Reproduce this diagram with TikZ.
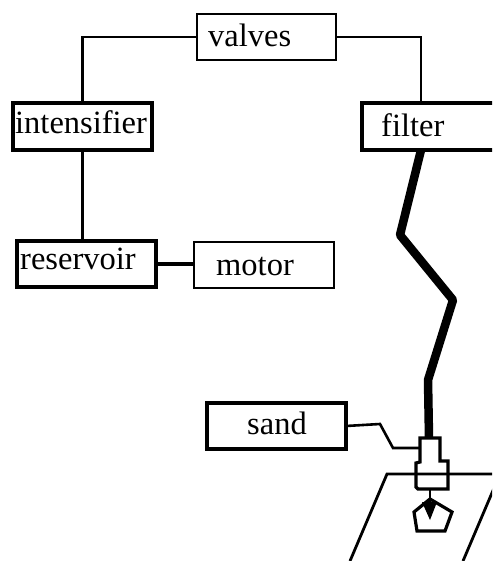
\documentclass[tikz,border=0pt]{standalone}
\usepackage{fontspec}
\setmainfont{Liberation Serif}
\begin{document}
\begin{tikzpicture}[x=1pt,y=-1pt,
  box/.style={draw=black,rectangle,inner sep=0pt,outer sep=0pt,anchor=north west},
  thinbox/.style={box,line width=2.8pt},
  heavybox/.style={box,line width=3.8pt},
  lbl/.style={anchor=base west,inner sep=0pt,font=\fontsize{32.5}{33}\selectfont},
  pipe/.style={draw=black,line width=2.6pt,line join=miter},
  feed/.style={draw=black,line width=4.2pt},
  jet/.style={draw=black,line width=8.5pt,line join=round},
  part/.style={draw=black,line width=2.8pt,line join=miter}]
\useasboundingbox (0,0) rectangle (492,561);
\clip (0,0) rectangle (492,561);
\fill[white] (0,0) rectangle (492,561);
% boxes
\node[thinbox,minimum width=139pt,minimum height=46pt] (valves) at (197,14) {};
\node[heavybox,minimum width=139pt,minimum height=47pt] (intens) at (13,103) {};
\node[heavybox,minimum width=139pt,minimum height=46pt] (reserv) at (17,241) {};
\node[thinbox,minimum width=140pt,minimum height=46pt] (motor) at (194,242) {};
\node[heavybox,minimum width=150pt,minimum height=47pt] (filter) at (362,103) {};
\node[heavybox,minimum width=139pt,minimum height=46pt] (sand) at (207,403) {};
% labels
\node[lbl] (valvesT) at (208,47) {valves};
\node[lbl] (intensT) at (15,134) {intensifier};
\node[lbl] (reservT) at (20,269) {reservoir};
\node[lbl] (motorT) at (216,275) {motor};
\node[lbl] (filterT) at (381,137) {filter};
\node[lbl] (sandT) at (247,434) {sand};
% helper points
\coordinate (filterTop) at (421,103);
\coordinate (filterBot) at (421,150);
\coordinate (nozzleTop) at (429,438);
\coordinate (nozzleSide) at (420,448);
\coordinate (nozzleBot) at (430,489);
\coordinate (tip) at (430,520);
% connectors
\draw[pipe] (valves.west) -| (intens.north);
\draw[pipe] (valves.east) -| (filterTop);
\draw[pipe] (intens.south) -- (intens.south |- reserv.north);
\draw[feed] (reserv.east) -- (motor.west |- reserv.east);
\draw[jet] (filterBot) -- (400,235) -- (453,300) -- (428,380) -- (nozzleTop);
\draw[pipe] (sand.east) -- (380,424) -- (393,448) -- (nozzleSide);
% table
\draw[part] (350,561) -- (387,474) -- (492,474);
\draw[part] (463,561) -- (500,474);
% nozzle
\draw[part,line width=3.2pt] (420,438) -- (440,438) -- (440,461) -- (448,461) -- (448,489) -- (418,489) -- (416,487) -- (416,463) -- (420,462) -- cycle;
% pentagon
\draw[part,line width=3.2pt] (430,499) -- (452,512) -- (445,531) -- (417,531) -- (414,512) -- cycle;
% arrow
\draw[part] (nozzleBot) -- (430,505);
\fill[black] (422,502) -- (437,502) -- (tip) -- cycle;
\end{tikzpicture}
\end{document}
